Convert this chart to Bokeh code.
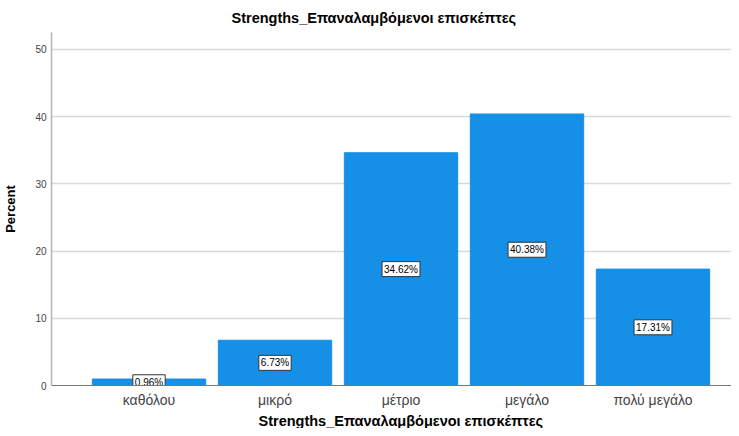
from bokeh.plotting import figure
from bokeh.models import ColumnDataSource, FixedTicker, Range1d, Title
from bokeh.core.properties import value
from bokeh.embed import file_html
from bokeh.resources import INLINE

categories = ["καθόλου", "μικρό", "μέτριο", "μεγάλο", "πολύ μεγάλο"]
percent = [0.96, 6.73, 34.62, 40.38, 17.31]
y_ticks = [0, 10, 20, 30, 40, 50]
title_text = "Strengths_Επαναλαμβόμενοι επισκέπτες"
x_label = "Strengths_Επαναλαμβόμενοι επισκέπτες"
y_label = "Percent"

xs = list(range(len(categories)))
src = ColumnDataSource(dict(
    x=xs,
    top=percent,
    mid=[v / 2 for v in percent],
    lab=["%.2f%%" % v for v in percent],
))

FONT = "Liberation Sans"

p = figure(width=731, height=428, output_backend="svg", toolbar_location=None,
           x_range=Range1d(-0.774, 4.623), y_range=Range1d(0, 52.5),
           min_border_left=44, min_border_right=0, min_border_top=0, min_border_bottom=0)
p.outline_line_color = None
p.background_fill_color = "white"

p.title.text = title_text
p.title.align = "left"
p.title.offset = 180
p.title.standoff = 14
p.title.text_font = FONT
p.title.text_font_size = "14.5px"
p.title.text_font_style = "bold"
p.title.text_color = "#000000"

xtitle = Title(text=x_label, align="left", offset=207, standoff=0,
               text_font=FONT, text_font_size="14.5px", text_font_style="bold",
               text_color="#000000")
p.add_layout(xtitle, "below")

p.vbar(x="x", top="top", width=0.9, bottom=0, source=src,
       fill_color="#1590e6", line_color="#1590e6")

p.text(x="x", y="mid", text="lab", source=src,
       text_align="center", text_baseline="middle",
       text_font=value(FONT), text_font_size="10px", text_color="#000000",
       background_fill_color="white", border_line_color="#333333",
       border_line_width=1, padding=2)

p.xaxis.ticker = FixedTicker(ticks=xs)
p.xaxis.major_label_overrides = {i: c for i, c in zip(xs, categories)}
p.xaxis.major_tick_line_color = None
p.xaxis.major_tick_out = 0
p.xaxis.major_tick_in = 0
p.xaxis.minor_tick_line_color = None
p.xaxis.axis_line_color = "#777777"
p.xaxis.major_label_text_font = FONT
p.xaxis.major_label_text_font_size = "14px"
p.xaxis.major_label_text_color = "#444444"
p.xaxis.major_label_standoff = 6

p.yaxis.ticker = FixedTicker(ticks=y_ticks)
p.yaxis.major_tick_line_color = None
p.yaxis.major_tick_out = 0
p.yaxis.major_tick_in = 0
p.yaxis.minor_tick_line_color = None
p.yaxis.axis_line_color = "#b5b5b5"
p.yaxis.axis_line_width = 1.5
p.yaxis.major_label_text_font = FONT
p.yaxis.major_label_text_font_size = "10px"
p.yaxis.major_label_text_color = "#444444"
p.yaxis.major_label_standoff = 5
p.yaxis.axis_label = y_label
p.yaxis.axis_label_text_font = FONT
p.yaxis.axis_label_text_font_size = "13px"
p.yaxis.axis_label_text_font_style = "bold"
p.yaxis.axis_label_text_color = "#000000"
p.yaxis.axis_label_standoff = 14

p.xgrid.grid_line_color = None
p.ygrid.grid_line_color = "#d9d9d9"
p.ygrid.grid_line_width = 1.5

open("out.html", "w").write(file_html(p, INLINE))
